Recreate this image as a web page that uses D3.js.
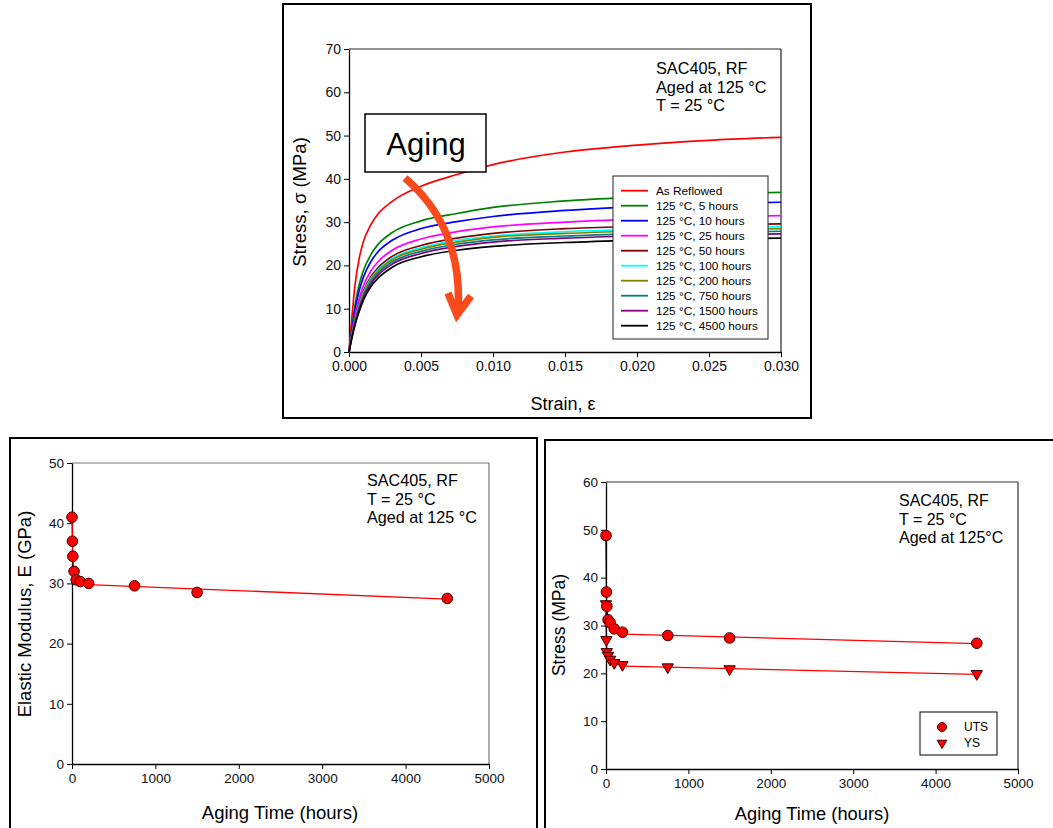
<!DOCTYPE html>
<html><head><meta charset="utf-8">
<script src="https://cdn.jsdelivr.net/npm/d3@7"></script>
<style>
html,body{margin:0;padding:0;background:#fff;}
svg{display:block;font-family:"Liberation Sans",Arial,sans-serif;}
</style></head>
<body>
<svg id="c" width="1053" height="828"></svg>
<script>
// ---------- DATA ----------
// Top chart: stress-strain curves
const strain = [0, 0.0002, 0.0004, 0.0007, 0.001, 0.0015, 0.002, 0.003, 0.005, 0.0075, 0.01, 0.015, 0.02, 0.025, 0.03];
const curveNames = ["As Reflowed","125 °C, 5 hours","125 °C, 10 hours","125 °C, 25 hours","125 °C, 50 hours","125 °C, 100 hours","125 °C, 200 hours","125 °C, 750 hours","125 °C, 1500 hours","125 °C, 4500 hours"];
const curveColors = ["#ff0000","#008000","#0000ff","#ff00ff","#800000","#00ffff","#808000","#008080","#800080","#000000"];
const sReflowed = [0, 8, 15, 21.5, 25.5, 29.3, 31.8, 34.8, 38.3, 41.0, 43.3, 46.2, 47.8, 48.9, 49.6];
const s5h    = [0, 5.5, 10.5, 15.5, 18.8, 22.4, 24.8, 27.6, 30.3, 32.0, 33.4, 34.9, 35.8, 36.5, 36.9];
const s10h   = [0, 5.0, 9.5, 14.1, 17.3, 20.8, 23.1, 25.8, 28.5, 30.1, 31.3, 32.7, 33.6, 34.2, 34.6];
const s25h   = [0, 4.3, 8.2, 12.3, 15.3, 18.6, 20.8, 23.5, 26.1, 27.8, 28.9, 30.0, 30.7, 31.2, 31.5];
const s50h   = [0, 3.9, 7.4, 11.2, 14.1, 17.3, 19.4, 22.1, 24.6, 26.3, 27.4, 28.5, 29.0, 29.3, 29.6];
const s100h  = [0, 3.8, 7.1, 10.85, 13.7, 16.85, 18.95, 21.6, 24.1, 25.8, 26.8, 27.8, 28.3, 28.7, 29.0];
const s200h  = [0, 3.7, 6.95, 10.6, 13.4, 16.55, 18.65, 21.3, 23.75, 25.4, 26.5, 27.4, 27.9, 28.2, 28.5];
const s750h  = [0, 3.55, 6.7, 10.2, 13.0, 16.1, 18.15, 20.8, 23.25, 24.9, 25.9, 26.8, 27.3, 27.6, 27.9];
const s1500h = [0, 3.4, 6.4, 9.85, 12.6, 15.65, 17.7, 20.3, 22.75, 24.4, 25.4, 26.3, 26.8, 27.1, 27.3];
const s4500h = [0, 3.2, 6.0, 9.3, 12.0, 15.0, 17.0, 19.6, 22.0, 23.5, 24.4, 25.3, 25.8, 26.1, 26.3];
const stressSeries = [sReflowed, s5h, s10h, s25h, s50h, s100h, s200h, s750h, s1500h, s4500h];
const topXTicks = [0, 0.005, 0.010, 0.015, 0.020, 0.025, 0.030];
const topYTicks = [0, 10, 20, 30, 40, 50, 60, 70];

// Bottom charts: properties vs aging time
const agingTime = [0, 5, 10, 25, 50, 100, 200, 750, 1500, 4500];
const modulusE  = [41.0, 37.0, 34.5, 32.0, 30.6, 30.3, 30.0, 29.6, 28.5, 27.5];
const fitTime   = [200, 4500];
const fitE      = [29.8, 27.4];
const uts       = [48.8, 37.0, 34.0, 31.2, 30.6, 29.3, 28.6, 27.9, 27.4, 26.3];
const ys        = [34.5, 27.0, 24.5, 23.7, 22.9, 22.2, 21.8, 21.3, 20.9, 19.9];
const fitUTS    = [28.2, 26.2];
const fitYS     = [21.5, 19.8];
const timeTicks = [0, 1000, 2000, 3000, 4000, 5000];
const eTicks    = [0, 10, 20, 30, 40, 50];
const sTicks    = [0, 10, 20, 30, 40, 50, 60];

// ---------- DRAW ----------
const svg = d3.select("#c");
svg.append("rect").attr("width",1053).attr("height",828).attr("fill","#fff");

function frame(x0,y0,x1,y1){
  svg.append("rect").attr("x",x0).attr("y",y0).attr("width",x1-x0).attr("height",y1-y0)
    .attr("fill","none").attr("stroke","#000").attr("stroke-width",2);
}
function axes(g, x, y, xt, yt, xfmt, yfmt, borderColor, fs){
  const [xa,xb] = x.range(), [ya,yb] = y.range();
  g.append("line").attr("x1",xa).attr("x2",xb).attr("y1",yb).attr("y2",yb).attr("stroke",borderColor).attr("stroke-width",1.2);
  g.append("line").attr("x1",xb).attr("x2",xb).attr("y1",yb).attr("y2",ya).attr("stroke",borderColor).attr("stroke-width",1.2);
  const ax = g.append("g").attr("transform",`translate(0,${ya})`)
    .call(d3.axisBottom(x).tickValues(xt).tickFormat(xfmt).tickSize(5).tickSizeOuter(0).tickPadding(4));
  const ay = g.append("g").attr("transform",`translate(${xa},0)`)
    .call(d3.axisLeft(y).tickValues(yt).tickFormat(yfmt).tickSize(5).tickSizeOuter(0).tickPadding(3));
  [ax,ay].forEach(a=>{
    a.attr("font-size",fs).attr("font-family","Liberation Sans, Arial, sans-serif");
    a.selectAll("text").attr("fill","#111");
    a.selectAll("line").attr("stroke","#000");
    a.select(".domain").attr("stroke","#000").attr("stroke-width",1.3);
  });
}

// ===== TOP CHART =====
frame(283,4,811,418);
const tx = d3.scaleLinear().domain([0,0.03]).range([349,781]);
const ty = d3.scaleLinear().domain([0,70]).range([352,49]);
const gt = svg.append("g");
axes(gt, tx, ty, topXTicks, topYTicks, d3.format(".3f"), d3.format("d"), "#222", 14);
const lineTop = d3.line().x((d,i)=>tx(strain[i])).y(d=>ty(d)).curve(d3.curveMonotoneX);
stressSeries.forEach((s,k)=>{
  gt.append("path").attr("d",lineTop(s)).attr("fill","none").attr("stroke",curveColors[k]).attr("stroke-width",1.7);
});
gt.append("text").attr("x",301).attr("y",202).attr("transform","rotate(-90,301,202)").attr("text-anchor","middle")
  .attr("dominant-baseline","middle").attr("font-size",18.5).text("Stress, σ (MPa)");
gt.append("text").attr("x",563).attr("y",410).attr("text-anchor","middle").attr("font-size",18).text("Strain, ε");
["SAC405, RF","Aged at 125 °C","T = 25 °C"].forEach((t,i)=>{
  gt.append("text").attr("x",656).attr("y",74+i*18.5).attr("font-size",16.3).text(t);
});
// legend
const lg = gt.append("g");
lg.append("rect").attr("x",613).attr("y",176).attr("width",155).attr("height",163).attr("fill","#fff").attr("stroke","#222").attr("stroke-width",1);
curveNames.forEach((n,i)=>{
  const yy = 190.7+i*15;
  lg.append("line").attr("x1",621).attr("x2",648).attr("y1",yy).attr("y2",yy).attr("stroke",curveColors[i]).attr("stroke-width",1.8);
  lg.append("text").attr("x",656).attr("y",yy+4).attr("font-size",11.8).text(n);
});
// Aging box + arrow
gt.append("rect").attr("x",365).attr("y",114).attr("width",121).attr("height",58).attr("fill","#fff").attr("stroke","#000").attr("stroke-width",1.5);
gt.append("text").attr("x",426).attr("y",155).attr("text-anchor","middle").attr("font-size",31).text("Aging");
gt.append("path").attr("d","M405,178 C440,208 462,250 458,312").attr("fill","none").attr("stroke","#f84a1a").attr("stroke-width",7.5);
gt.append("path").attr("d","M448,293 L457,315 L471,296").attr("fill","none").attr("stroke","#f84a1a").attr("stroke-width",7.5).attr("stroke-linejoin","miter");

// ===== BOTTOM LEFT =====
frame(10,438,537,832);
const lx = d3.scaleLinear().domain([0,5000]).range([72,489]);
const ly = d3.scaleLinear().domain([0,50]).range([764,463]);
const gl = svg.append("g");
axes(gl, lx, ly, timeTicks, eTicks, d3.format("d"), d3.format("d"), "#777", 13.5);
const early = agingTime.map((t,i)=>[t,modulusE[i]]).filter(d=>d[0]<=200);
gl.append("path").attr("d",d3.line().x(d=>lx(d[0])).y(d=>ly(d[1])).curve(d3.curveMonotoneX)(early))
  .attr("fill","none").attr("stroke","#ff0000").attr("stroke-width",1.3);
gl.append("path").attr("d",d3.line().x((d,i)=>lx(fitTime[i])).y(d=>ly(d))(fitE))
  .attr("fill","none").attr("stroke","#ff0000").attr("stroke-width",1.3);
gl.selectAll("circle.e").data(modulusE).join("circle").attr("class","e")
  .attr("cx",(d,i)=>lx(agingTime[i])).attr("cy",d=>ly(d)).attr("r",5.3)
  .attr("fill","#ff0000").attr("stroke","#3a0000").attr("stroke-width",1);
gl.append("text").attr("x",26).attr("y",614).attr("transform","rotate(-90,26,614)").attr("text-anchor","middle")
  .attr("dominant-baseline","middle").attr("font-size",18.5).text("Elastic Modulus, E (GPa)");
gl.append("text").attr("x",280).attr("y",819).attr("text-anchor","middle").attr("font-size",18.5).text("Aging Time (hours)");
["SAC405, RF","T = 25 °C","Aged at 125 °C"].forEach((t,i)=>{
  gl.append("text").attr("x",367).attr("y",486+i*18.5).attr("font-size",16.2).text(t);
});

// ===== BOTTOM RIGHT =====
frame(545,440,1056,832);
const rx = d3.scaleLinear().domain([0,5000]).range([606,1018]);
const ry = d3.scaleLinear().domain([0,60]).range([769,482]);
const gr = svg.append("g");
axes(gr, rx, ry, timeTicks, sTicks, d3.format("d"), d3.format("d"), "#333", 13.5);
const earlyU = agingTime.map((t,i)=>[t,uts[i]]).filter(d=>d[0]<=200);
const earlyY = agingTime.map((t,i)=>[t,ys[i]]).filter(d=>d[0]<=200);
const lr = d3.line().x(d=>rx(d[0])).y(d=>ry(d[1])).curve(d3.curveMonotoneX);
gr.append("path").attr("d",lr(earlyU)).attr("fill","none").attr("stroke","#000").attr("stroke-width",1.3);
gr.append("path").attr("d",lr(earlyY)).attr("fill","none").attr("stroke","#000").attr("stroke-width",1.3);
const lfit = d3.line().x((d,i)=>rx(fitTime[i])).y(d=>ry(d));
gr.append("path").attr("d",lfit(fitUTS)).attr("fill","none").attr("stroke","#ff0000").attr("stroke-width",1.3);
gr.append("path").attr("d",lfit(fitYS)).attr("fill","none").attr("stroke","#ff0000").attr("stroke-width",1.3);
const tri = d3.symbol().type(d3.symbolTriangle).size(55);
gr.selectAll("path.ys").data(ys).join("path").attr("class","ys").attr("d",tri)
  .attr("transform",(d,i)=>`translate(${rx(agingTime[i])},${ry(d)}) rotate(180)`)
  .attr("fill","#ff0000").attr("stroke","#3a0000").attr("stroke-width",1);
gr.selectAll("circle.u").data(uts).join("circle").attr("class","u")
  .attr("cx",(d,i)=>rx(agingTime[i])).attr("cy",d=>ry(d)).attr("r",5.3)
  .attr("fill","#ff0000").attr("stroke","#3a0000").attr("stroke-width",1);
gr.append("text").attr("x",560).attr("y",625).attr("transform","rotate(-90,560,625)").attr("text-anchor","middle")
  .attr("dominant-baseline","middle").attr("font-size",17.5).text("Stress (MPa)");
gr.append("text").attr("x",812).attr("y",820).attr("text-anchor","middle").attr("font-size",18.3).text("Aging Time (hours)");
["SAC405, RF","T = 25 °C","Aged at 125°C"].forEach((t,i)=>{
  gr.append("text").attr("x",899).attr("y",506+i*18.5).attr("font-size",16).text(t);
});
const rl = gr.append("g");
rl.append("rect").attr("x",920).attr("y",712).attr("width",77).attr("height",43).attr("fill","#fff").attr("stroke","#000").attr("stroke-width",1);
rl.append("circle").attr("cx",942).attr("cy",727).attr("r",4.5).attr("fill","#ff0000").attr("stroke","#3a0000");
rl.append("path").attr("d",d3.symbol().type(d3.symbolTriangle).size(40)).attr("transform","translate(942,743) rotate(180)")
  .attr("fill","#ff0000").attr("stroke","#3a0000");
rl.append("text").attr("x",964).attr("y",731).attr("font-size",12).text("UTS");
rl.append("text").attr("x",964).attr("y",747).attr("font-size",12).text("YS");
</script>
</body></html>
